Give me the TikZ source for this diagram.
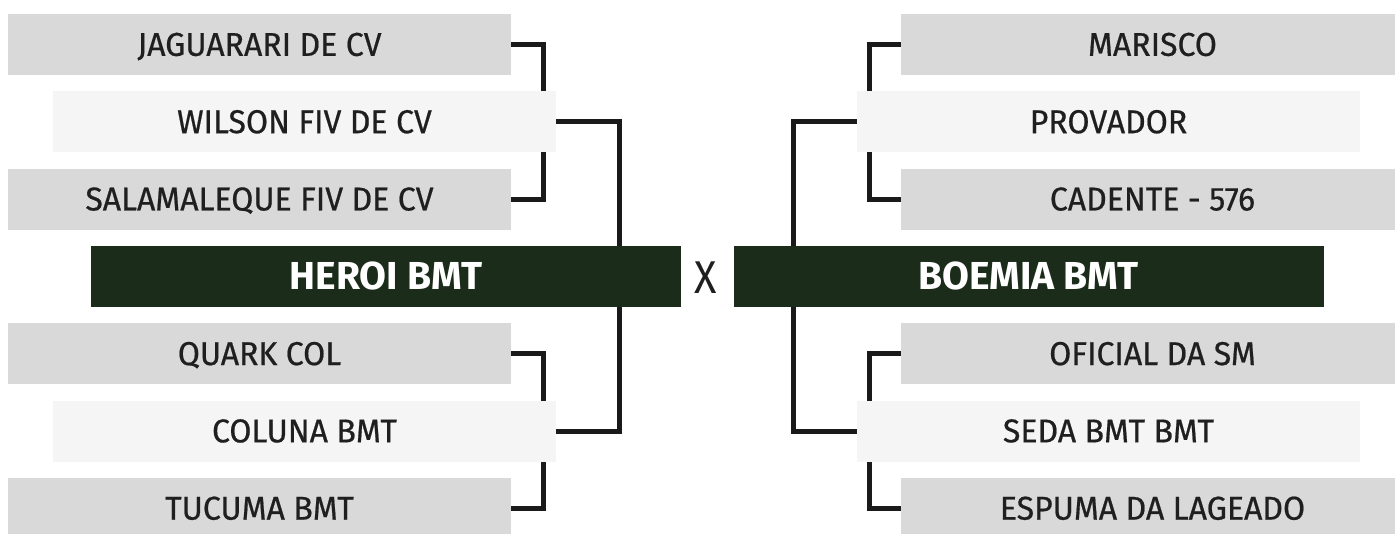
\documentclass[tikz,border=0pt]{standalone}
\usepackage{fontspec}
\setmainfont{Fira Sans}
\newfontfamily\teamfont{Fira Sans}[FakeStretch=0.97,FakeBold=0.6]
\newfontfamily\finalfont{Fira Sans}[FakeStretch=1.0]
\newfontfamily\vsfont{Fira Sans}[FakeStretch=0.9]
\usetikzlibrary{backgrounds}
\definecolor{boxgray}{HTML}{D9D9D9}
\definecolor{boxlight}{HTML}{F5F5F5}
\definecolor{maingreen}{HTML}{1C2C1A}
\definecolor{ink}{HTML}{1F1F1F}
\definecolor{linec}{HTML}{1A1A1A}
\begin{document}
\begin{tikzpicture}[x=1pt,y=-1pt,
  team/.style={minimum width=503pt, minimum height=61pt, inner sep=0pt, text=ink,
    font=\teamfont\fontsize{33}{33}\selectfont, text height=22.7pt, text depth=0pt},
  grayteam/.style={team, fill=boxgray},
  lightteam/.style={team, fill=boxlight},
  final/.style={minimum width=590pt, minimum height=61pt, inner sep=0pt, fill=maingreen, text=white,
    font=\finalfont\bfseries\fontsize{39}{39}\selectfont, text height=26.9pt, text depth=0pt},
  conn/.style={draw=linec, line width=5pt, line join=miter}]
\useasboundingbox (0,0) rectangle (1395,533);
\clip (0,0) rectangle (1395,533);
% left side
\node[grayteam]  (l1) at (259.5,44.5)  {JAGUARARI DE CV};
\node[lightteam] (l2) at (304.5,121.8) {WILSON FIV DE CV};
\node[grayteam]  (l3) at (259.5,199.1) {SALAMALEQUE FIV DE CV};
\node[final]     (lf) at (386,276.4)   {HEROI BMT};
\node[grayteam]  (l4) at (259.5,353.7) {QUARK COL};
\node[lightteam] (l5) at (304.5,431)   {COLUNA BMT};
\node[grayteam]  (l6) at (259.5,508.3) {TUCUMA BMT};
% right side
\node[grayteam]  (r1) at (1152.5,44.5)  {MARISCO};
\node[lightteam] (r2) at (1108.5,121.8) {PROVADOR};
\node[grayteam]  (r3) at (1152.5,199.1) {CADENTE - 576};
\node[final]     (rf) at (1028.5,276.4) {BOEMIA BMT};
\node[grayteam]  (r4) at (1152.5,353.7) {OFICIAL DA SM};
\node[lightteam] (r5) at (1108.5,431)   {SEDA BMT BMT};
\node[grayteam]  (r6) at (1152.5,508.3) {ESPUMA DA LAGEADO};
% versus
\node[text=ink, inner sep=0pt, font=\vsfont\fontsize{46}{46}\selectfont, text height=31.7pt, text depth=0pt] (vs) at (706,278) {X};
% connectors
\begin{scope}[on background layer]
\draw[conn] (l1.east) -- ++(32,0) |- (l3.east);
\draw[conn] (l4.east) -- ++(32,0) |- (l6.east);
\draw[conn] (l2.east) -- ++(63,0) |- (l5.east);
\draw[conn] (r1.west) -- ++(-31,0) |- (r3.west);
\draw[conn] (r4.west) -- ++(-31,0) |- (r6.west);
\draw[conn] (r2.west) -- ++(-63,0) |- (r5.west);
\end{scope}
\end{tikzpicture}
\end{document}
